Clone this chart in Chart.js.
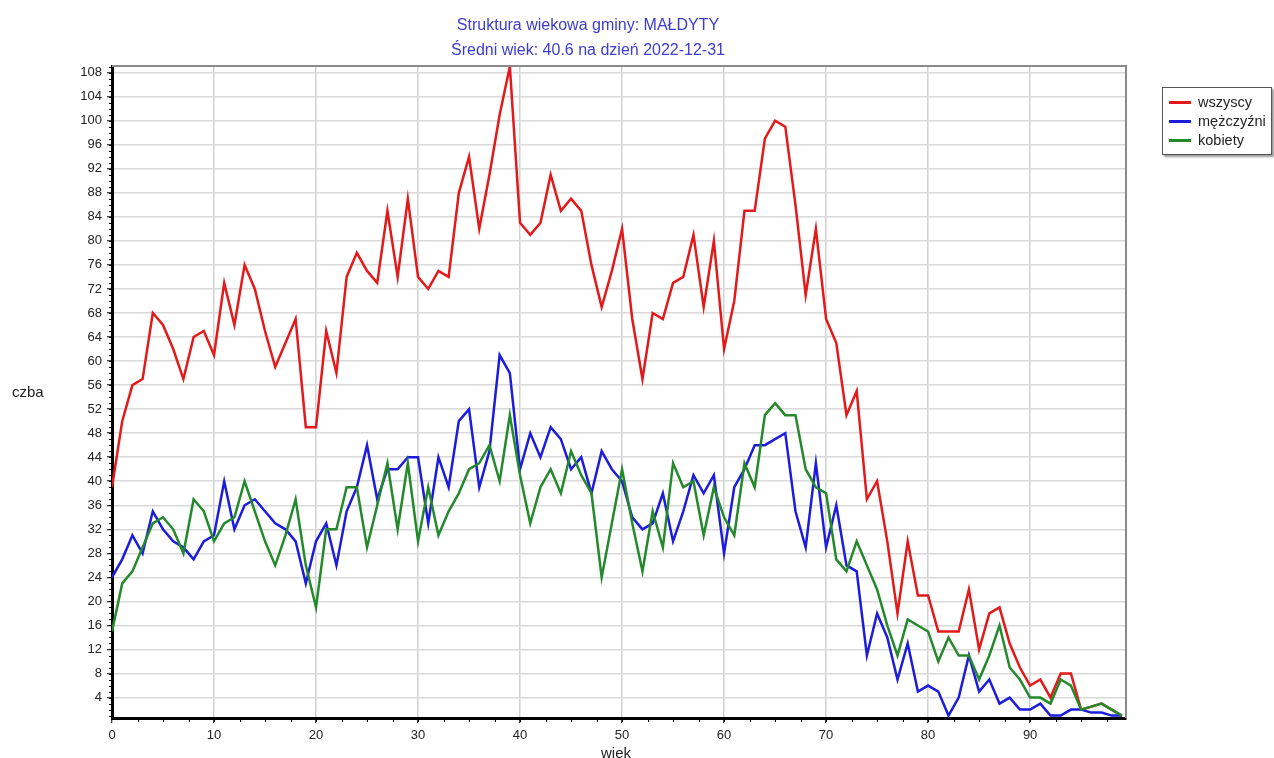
<!DOCTYPE html>
<html><head><meta charset="utf-8">
<script src="https://cdn.jsdelivr.net/npm/chart.js@4.4.0/dist/chart.umd.min.js"></script>
<style>
body{margin:0;background:#fff;width:1274px;height:758px;overflow:hidden;position:relative;font-family:"Liberation Sans",Arial,sans-serif;}
#c{position:absolute;left:0;top:0;}
.title{position:absolute;color:#3c3cd2;font-size:16px;line-height:18px;left:338px;width:500px;text-align:center;white-space:nowrap;}
.lbl{position:absolute;color:#222;font-size:15px;line-height:16px;white-space:nowrap;}
#legend{position:absolute;left:1162px;top:87px;width:108px;height:66px;border:1px solid #555;background:#fff;box-shadow:2px 2px 2px #999;}
.li{position:absolute;left:6px;font-size:14.5px;line-height:16px;color:#222;}
.li span{display:inline-block;width:22px;height:3px;vertical-align:middle;margin-right:7px;position:relative;top:-1px;}
</style></head>
<body>
<canvas id="c" width="1274" height="758"></canvas>
<div class="title" style="top:16px">Struktura wiekowa gminy: MAŁDYTY</div>
<div class="title" style="top:41px">Średni wiek: 40.6 na dzień 2022-12-31</div>
<div class="lbl" style="left:12px;top:384px">czba</div>
<div class="lbl" style="left:601px;top:745px">wiek</div>
<div id="legend">
  <div class="li" style="top:6px"><span style="background:#e41919"></span>wszyscy</div>
  <div class="li" style="top:25px"><span style="background:#1c1cdc"></span>mężczyźni</div>
  <div class="li" style="top:44px"><span style="background:#23892a"></span>kobiety</div>
</div>
<script>
const ages = Array.from({length:100},(_,i)=>i);
const wszyscy = [39,50,56,57,68,66,62,57,64,65,
 61,73,66,76,72,65,59,63,67,49,
 49,65,58,74,78,75,73,85,74,87,
 74,72,75,74,88,94,82,91,101,109,
 83,81,83,91,85,87,85,76,69,75,
 82,67,57,68,67,73,74,81,69,80,
 62,70,85,85,97,100,99,86,71,82,
 67,63,51,55,37,40,30,18,30,21,
 21,15,15,15,22,12,18,19,13,9,
 6,7,4,8,8,2,2.5,3,2,1];
const mezczyzni = [24,27,31,28,35,32,30,29,27,30,
 31,40,32,36,37,35,33,32,30,23,
 30,33,26,35,39,46,37,42,42,44,
 44,33,44,39,50,52,39,45,61,58,
 42,48,44,49,47,42,44,38,45,42,
 40,34,32,33,38,30,35,41,38,41,
 28,39,42,46,46,47,48,35,29,43,
 29,36,26,25,11,18,14,7,13,5,
 6,5,1,4,11,5,7,3,4,2,
 2,3,1,1,2,2,1.5,1.5,1,1];
const kobiety = [15,23,25,29,33,34,32,28,37,35,
 30,33,34,40,35,30,26,31,37,26,
 19,32,32,39,39,29,36,43,32,43,
 30,39,31,35,38,42,43,46,40,51,
 41,33,39,42,38,45,41,38,24,33,
 42,33,25,35,29,43,39,40,31,39,
 34,31,43,39,51,53,51,51,42,39,
 38,27,25,30,26,22,16,11,17,16,
 15,10,14,11,11,7,11,16,9,7,
 4,4,3,7,6,2,2.5,3,2,1];
const xTickLabels = [0,10,20,30,40,50,60,70,80,90];
const yTickLabels = [4,8,12,16,20,24,28,32,36,40,44,48,52,56,60,64,68,72,76,80,84,88,92,96,100,104,108];

const toPts = arr => arr.map((v,i)=>({x:ages[i], y:v}));

const frame = {
  id:'frame',
  afterDatasetsDraw(chart){
    const {ctx, chartArea:a, scales:{x,y}} = chart;
    ctx.save();
    ctx.strokeStyle = '#8a8a8a'; ctx.lineWidth = 2;
    ctx.beginPath();
    ctx.moveTo(a.left, a.top); ctx.lineTo(a.right, a.top); ctx.lineTo(a.right, a.bottom);
    ctx.stroke();
    ctx.strokeStyle = '#000'; ctx.lineWidth = 1;
    ctx.beginPath();
    for(let v=2.5; v<99; v+=2.5){
      const px = Math.round(x.getPixelForValue(v))+0.5;
      ctx.moveTo(px, a.bottom); ctx.lineTo(px, a.bottom+4);
    }
    for(let v=1; v<=109; v+=1){
      const py = Math.round(y.getPixelForValue(v))+0.5;
      ctx.moveTo(a.left-3, py); ctx.lineTo(a.left, py);
    }
    ctx.stroke();
    ctx.restore();
  }
};

new Chart(document.getElementById('c'), {
  type:'line',
  data:{datasets:[
    {label:'wszyscy', data:toPts(wszyscy), borderColor:'#e41919', order:3},
    {label:'mężczyźni', data:toPts(mezczyzni), borderColor:'#1c1cdc', order:2},
    {label:'kobiety', data:toPts(kobiety), borderColor:'#23892a', order:1}
  ]},
  options:{
    responsive:false, animation:false,
    elements:{line:{borderWidth:2.5, tension:0}, point:{radius:0}},
    layout:{padding:{left:72, top:66, right:148, bottom:8}},
    plugins:{legend:{display:false}, title:{display:false}, tooltip:{enabled:false}},
    scales:{
      x:{type:'linear', min:0, max:99.4,
        afterBuildTicks: s => { s.ticks = xTickLabels.map(v=>({value:v})); },
        afterFit: s => { s.height = 32; },
        grid:{color:'#d2d2d2', lineWidth:1.5, tickColor:'#000', tickLength:5, tickWidth:1},
        border:{color:'#000', width:3},
        ticks:{color:'#222', font:{family:'"Liberation Sans", Arial, sans-serif', size:13}, padding:5, maxRotation:0}
      },
      y:{type:'linear', min:0.6, max:109.1,
        afterBuildTicks: s => { s.ticks = yTickLabels.map(v=>({value:v})); },
        afterFit: s => { s.width = 40; },
        grid:{color:'#d9d9d9', lineWidth:1.5, tickColor:'#000', tickLength:5, tickWidth:1},
        border:{color:'#000', width:3},
        ticks:{color:'#222', font:{family:'"Liberation Sans", Arial, sans-serif', size:13}, padding:5}
      }
    }
  },
  plugins:[frame]
});
</script>
</body></html>
